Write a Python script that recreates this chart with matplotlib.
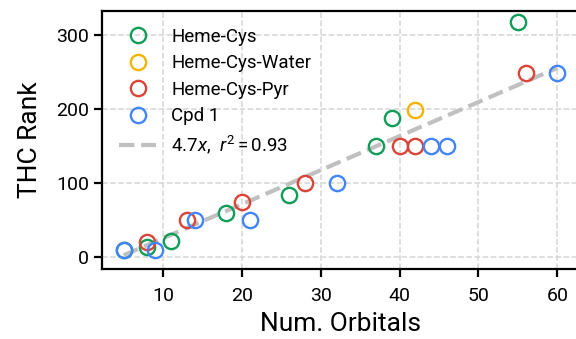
import matplotlib
matplotlib.use("Agg")
import matplotlib.pyplot as plt
import numpy as np

plt.rcParams['font.family'] = ['Roboto', 'DejaVu Sans']
plt.rcParams['mathtext.fontset'] = 'custom'
plt.rcParams['mathtext.rm'] = 'Roboto'
plt.rcParams['mathtext.it'] = 'Roboto:italic'

# Data
heme_cys_x = [5, 8, 11, 18, 26, 37, 39, 55]
heme_cys_y = [10, 14, 22, 60, 85, 150, 189, 318]
water_x = [42]
water_y = [199]
pyr_x = [8, 13, 20, 28, 40, 42, 56]
pyr_y = [21, 50, 75, 100, 150, 150, 249]
cpd1_x = [5, 9, 14, 21, 32, 44, 46, 60]
cpd1_y = [10, 10, 50, 50, 100, 150, 150, 249]

fit_x = [5, 60]
fit_slope = 4.6
fit_intercept = -20
fit_label = r"4.7$x$,  $r^2 = 0.93$"

series = [
    ("Heme-Cys", heme_cys_x, heme_cys_y, "#0F9D58"),
    ("Heme-Cys-Water", water_x, water_y, "#F4B400"),
    ("Heme-Cys-Pyr", pyr_x, pyr_y, "#DB4437"),
    ("Cpd 1", cpd1_x, cpd1_y, "#4285F4"),
]

fig = plt.figure(figsize=(5.76, 3.39), dpi=100)
ax = fig.add_axes([0.1771, 0.2056, 0.8281, 0.762])

for label, xs, ys, c in series:
    ax.plot(xs, ys, linestyle='none', marker='o', markersize=11,
            markerfacecolor='none', markeredgecolor=c, markeredgewidth=1.7,
            label=label, zorder=3)

fx = np.array(fit_x, dtype=float)
ax.plot(fx, fit_slope * fx + fit_intercept, linestyle='--', color='#c0c0c0',
        linewidth=3, label=fit_label, zorder=2)

ax.set_xlim(2.25, 62.75)
ax.set_ylim(-16, 333)
ax.set_xticks([10, 20, 30, 40, 50, 60])
ax.set_yticks([0, 100, 200, 300])
ax.grid(True, linestyle='--', color='#d6d6d6', linewidth=1.1, zorder=0)
ax.set_axisbelow(True)

for s in ax.spines.values():
    s.set_linewidth(1.6)
ax.tick_params(axis='both', which='major', labelsize=14, length=6, width=1.6, direction='out')
ax.tick_params(axis='x', pad=7)

ax.set_xlabel("Num. Orbitals", fontsize=19, labelpad=5)
ax.set_ylabel("THC Rank", fontsize=19, labelpad=10)

ax.legend(loc='upper left', frameon=False, fontsize=13.5, handlelength=2.0,
          labelspacing=0.45)

fig.savefig("out.png", dpi=100)
